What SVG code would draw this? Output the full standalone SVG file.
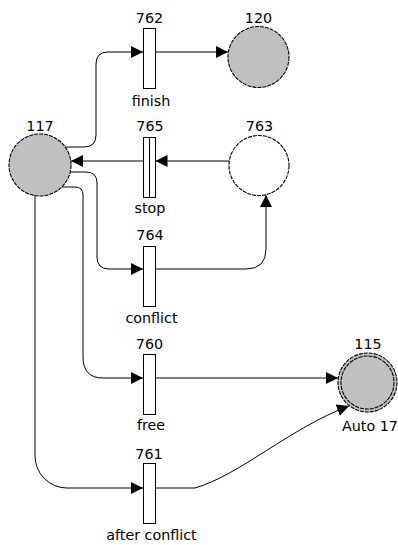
<svg xmlns="http://www.w3.org/2000/svg" width="398" height="545" viewBox="0 0 398 545">
<style>
text{font-family:"DejaVu Sans",Verdana,sans-serif;font-size:14.3px;fill:#000;text-anchor:middle}
.place{stroke:#000;stroke-width:1.1;stroke-dasharray:4 1}
.marked{fill:#c0c0c0}
.empty{fill:#fff}
.trans{fill:#fff;stroke:#000;stroke-width:1}
.arc{fill:none;stroke:#000;stroke-width:1}
</style>
<defs>
<marker id="ah" markerUnits="userSpaceOnUse" markerWidth="12" markerHeight="12" refX="12" refY="6" orient="auto">
<path d="M0,0 L12,6 L0,12 z" fill="#000"/>
</marker>
</defs>
<rect width="398" height="545" fill="#fff"/>
<g id="connectors">
<path class="arc" d="M65,147 L84,147 Q96,147 96,135 L96,64 Q96,52 108,52 L143,52" marker-end="url(#ah)"/>
<path class="arc" d="M155,52 L228,52" marker-end="url(#ah)"/>
<path class="arc" d="M229,161 L155.5,161" marker-end="url(#ah)"/>
<path class="arc" d="M143,161 L71,161" marker-end="url(#ah)"/>
<path class="arc" d="M70,172 L86,172 Q97,172 97,183 L97,257 Q97,269 109,269 L143,269" marker-end="url(#ah)"/>
<path class="arc" d="M155,269 L246,269 Q266,269 266,249 L266,195" marker-end="url(#ah)"/>
<path class="arc" d="M62,187 L75,187 Q83,187 83,195 L83,357 Q83,378 103,378 L143,378" marker-end="url(#ah)"/>
<path class="arc" d="M155,378 L338,378" marker-end="url(#ah)"/>
<path class="arc" d="M35,195.6 L35,456 A32,32 0 0 0 67,488 L143,488" marker-end="url(#ah)"/>
<path class="arc" d="M155,488 L195,488 C240,475 290,428 349,406" marker-end="url(#ah)"/>
</g>
<g id="p117">
<circle class="place marked" cx="40" cy="165" r="31"/>
<text x="40" y="131">117</text>
</g>
<g id="p120">
<circle class="place marked" cx="258.5" cy="57" r="30.5"/>
<text x="258.5" y="23">120</text>
</g>
<g id="p763">
<circle class="place empty" cx="259" cy="165.5" r="30"/>
<text x="259.5" y="131">763</text>
</g>
<g id="p115">
<circle class="place marked" cx="367.5" cy="382.5" r="29.5"/>
<circle class="place" fill="none" cx="367.5" cy="382.5" r="26.5"/>
<text x="368" y="349">115</text>
<text x="370" y="431">Auto 17</text>
</g>
<g id="t762">
<rect class="trans" x="143.5" y="28.5" width="12" height="60"/>
<text x="149.5" y="23">762</text>
<text x="151" y="106">finish</text>
</g>
<g id="t765">
<rect class="trans" x="143.5" y="137.5" width="12" height="60"/>
<line x1="149.5" y1="137.5" x2="149.5" y2="197.5" stroke="#000" stroke-width="1"/>
<text x="150" y="131">765</text>
<text x="150" y="213">stop</text>
</g>
<g id="t764">
<rect class="trans" x="143.5" y="246.5" width="12" height="60"/>
<text x="150" y="240">764</text>
<text x="151.5" y="323">conflict</text>
</g>
<g id="t760">
<rect class="trans" x="143.5" y="354.5" width="12" height="60"/>
<text x="149.5" y="349">760</text>
<text x="151" y="430">free</text>
</g>
<g id="t761">
<rect class="trans" x="143.5" y="463.5" width="12" height="60"/>
<text x="149" y="459">761</text>
<text x="151.5" y="540">after conflict</text>
</g>
</svg>
